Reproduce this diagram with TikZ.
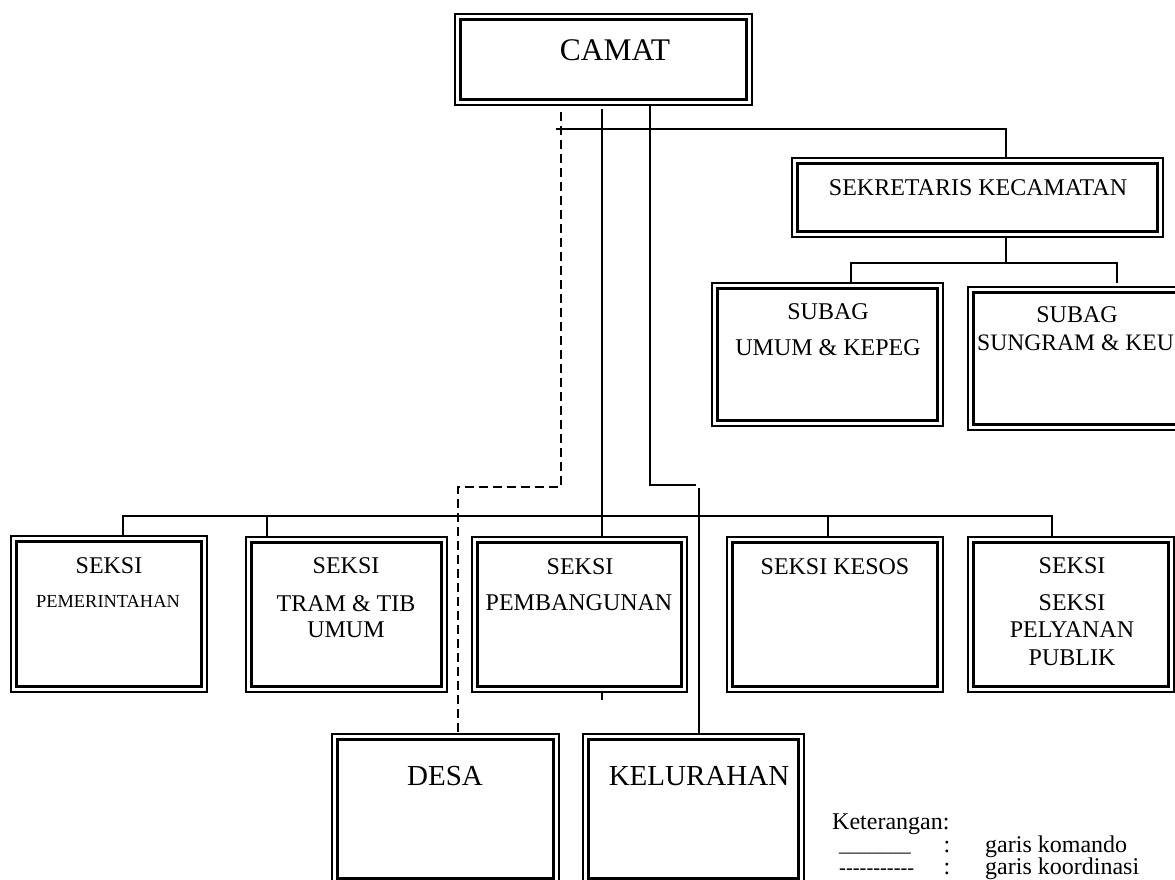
\documentclass[tikz,border=0pt]{standalone}
\usepackage{fontspec}
\setmainfont{Liberation Serif}
\newcommand\hyk{-\kern0pt}
\tikzset{
  frame/.style={draw, line width=1.6pt, inner sep=0pt, outer sep=0pt, anchor=north west,
    path picture={\draw[line width=2.6pt]
      ([shift={(5.5pt,-5.5pt)}]path picture bounding box.north west) rectangle
      ([shift={(-5.5pt,5.5pt)}]path picture bounding box.south east);}},
  conn/.style={line width=1.8pt},
  coordline/.style={line width=1.8pt, dash pattern=on 9pt off 5pt},
  lbl/.style={inner sep=0pt, font=\fontsize{24}{28}\selectfont},
  leg/.style={inner sep=0pt, anchor=base west, font=\fontsize{24}{28}\selectfont},
}
\begin{document}
\begin{tikzpicture}[x=1pt,y=-1pt]
\useasboundingbox (0,0) rectangle (1175,880);
\clip (0,0) rectangle (1175,880);

% boxes
\node[frame, minimum width=297pt, minimum height=91pt]  (camat) at (455,14)  {};
\node[frame, minimum width=371pt, minimum height=79pt]  (sekr)  at (792,158) {};
\node[frame, minimum width=231pt, minimum height=143pt] (sub1)  at (712,283) {};
\node[frame, minimum width=217pt, minimum height=143pt] (sub2)  at (968,287) {};
\node[frame, minimum width=196pt, minimum height=156pt] (pem)   at (11,536)  {};
\node[frame, minimum width=201pt, minimum height=155pt] (tram)  at (246,537) {};
\node[frame, minimum width=215pt, minimum height=155pt] (pbg)   at (472,537) {};
\node[frame, minimum width=216pt, minimum height=155pt] (kesos) at (727,537) {};
\node[frame, minimum width=206pt, minimum height=155pt] (pel)   at (968,537) {};
\node[frame, minimum width=227pt, minimum height=150pt] (desa)  at (332,734) {};
\node[frame, minimum width=221pt, minimum height=150pt] (kel)   at (583,734) {};

% texts
\node[lbl, font=\fontsize{31.5}{36}\selectfont] (tcamat) at (615,50) {CAMAT};
\node[lbl] (tsekr) at (978,188) {SEKRETARIS KECAMATAN};
\node[lbl] (tsub1a) at (828,312) {SUBAG};
\node[lbl] (tsub1b) at (828,348) {UMUM \& KEPEG};
\node[lbl] (tsub2a) at (1077,315) {SUBAG};
\node[lbl, anchor=west, font=\fontsize{23.6}{28}\selectfont] (tsub2b) at (977,343) {SUNGRAM \& KEU};
\node[lbl] (tpema) at (109,566) {SEKSI};
\node[lbl, font=\fontsize{18.4}{22}\selectfont] (tpemb) at (108,601) {PEMERINTAHAN};
\node[lbl] (ttrama) at (346,566) {SEKSI};
\node[lbl] (ttramb) at (346,604) {TRAM \& TIB};
\node[lbl] (ttramc) at (346,630) {UMUM};
\node[lbl] (tpbga) at (580,567) {SEKSI};
\node[lbl] (tpbgb) at (579,603) {PEMBANGUNAN};
\node[lbl] (tkesos) at (835,567) {SEKSI KESOS};
\node[lbl] (tpela) at (1072,566) {SEKSI};
\node[lbl] (tpelb) at (1072,603) {SEKSI};
\node[lbl] (tpelc) at (1072,630) {PELYANAN};
\node[lbl] (tpeld) at (1072,658) {PUBLIK};
\node[lbl, font=\fontsize{29}{33}\selectfont] (tdesa) at (445,776) {DESA};
\node[lbl, font=\fontsize{29}{33}\selectfont] (tkel) at (699,776) {KELURAHAN};

% connectors from CAMAT
\coordinate (cd)  at (561,112);
\coordinate (cdk) at (458,487);
\draw[coordline] (cd) |- (cdk) -- (cdk |- desa.north);

\coordinate (cm) at (602,109);
\coordinate (tk) at (602,700);
\draw[conn] (cm) -- (cm |- pbg.north);
\draw[conn] (pbg.south -| cm) -- (tk);

\coordinate (cr) at (650,485);
\coordinate (ck) at (696,485);
\coordinate (kt) at (699,488);
\draw[conn] (camat.south -| cr) -- (cr) -- (ck);
\draw[conn] (kt) -- (kt |- kel.north);

\coordinate (hs)  at (556,129);
\coordinate (hsr) at (1006,129);
\draw[conn] (hs) -- (hsr) -- (hsr |- sekr.north);

% sekretaris to subag
\coordinate (sj)   at (1006,263);
\coordinate (sjl)  at (851,263);
\coordinate (sjr)  at (1117,263);
\coordinate (sjr2) at (1117,283);
\draw[conn] (sekr.south -| sj) -- (sj);
\draw[conn] (sjl |- sub1.north) -- (sjl) -- (sjr) -- (sjr2);

% seksi bus
\coordinate (bl) at (123,516);
\coordinate (br) at (1052,516);
\coordinate (b2) at (267,516);
\coordinate (b4) at (828,516);
\draw[conn] (bl |- pem.north) -- (bl) -- (br) -- (br |- pel.north);
\draw[conn] (b2) -- (b2 |- tram.north);
\draw[conn] (b4) -- (b4 |- kesos.north);

% legend
\node[leg] (ket) at (832,829) {Keterangan:};
\node[leg, font=\fontsize{20.5}{24}\selectfont] (l1a) at (839,851) {\_\_\_\_\_\_\_};
\node[leg, anchor=base] (l1b) at (947,852) {:};
\node[leg] (l1c) at (985,852) {garis komando};
\node[leg, font=\fontsize{20.5}{24}\selectfont] (l2a) at (839,874) {\hyk\hyk\hyk\hyk\hyk\hyk\hyk\hyk\hyk\hyk\hyk};
\node[leg, anchor=base] (l2b) at (947,874) {:};
\node[leg] (l2c) at (985,874) {garis koordinasi};
\end{tikzpicture}
\end{document}
